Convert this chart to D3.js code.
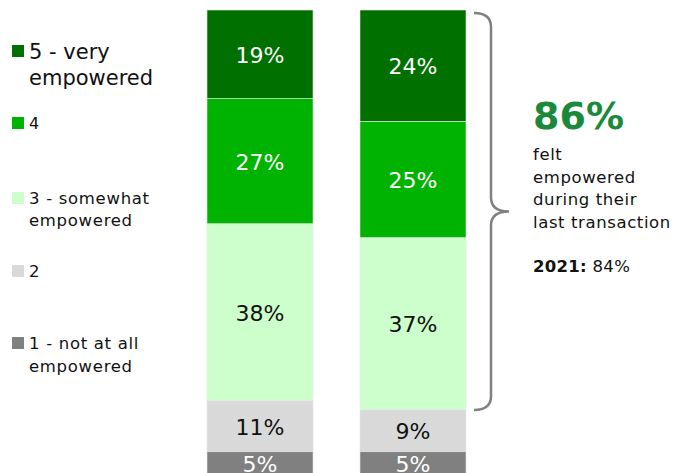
<!DOCTYPE html>
<html>
<head>
<meta charset="utf-8">
<script src="https://cdn.jsdelivr.net/npm/d3@7"></script>
<style>
  html, body { margin: 0; padding: 0; background: #fff; }
  svg { display: block; }
</style>
</head>
<body>
<svg id="chart" width="677" height="473"></svg>
<script>
// Response levels, top of the stack first
const levels = ["5 - very empowered", "4", "3 - somewhat empowered", "2", "1 - not at all empowered"];
const levelColors = ["#007000", "#00b300", "#ccffcc", "#d9d9d9", "#808080"];
const labelColors = ["#fff", "#fff", "#111", "#111", "#fff"];
const years = ["2021", "2022"];
// share of respondents (%) per level, same order as levels
const values2021 = [19, 27, 38, 11, 5];
const values2022 = [24, 25, 37, 9, 5];
const empoweredShare = 86;
const priorShare = 84;

const svg = d3.select("#chart");
const font = "'DejaVu Sans', sans-serif";

const x = d3.scaleBand().domain(years).range([207, 466]).paddingInner(0.307).paddingOuter(0);
const y = d3.scaleLinear().domain([0, 100]).range([10, 475]);
const color = d3.scaleOrdinal().domain(levels).range(levelColors);

const series = [values2021, values2022];
series.forEach((vals, i) => {
  let acc = 0;
  const segs = vals.map((v, j) => { const s = { level: levels[j], v, y0: acc, y1: acc + v, j }; acc += v; return s; });
  const g = svg.append("g");
  g.selectAll("rect").data(segs).join("rect")
    .attr("x", x(years[i]))
    .attr("width", x.bandwidth())
    .attr("y", d => y(d.y0))
    .attr("height", d => y(d.y1) - y(d.y0))
    .attr("fill", d => color(d.level))
    .attr("stroke", "#e6e6e6")
    .attr("stroke-width", 0.6);
  g.selectAll("text").data(segs).join("text")
    .attr("x", x(years[i]) + x.bandwidth() / 2)
    .attr("y", d => (y(d.y0) + y(d.y1)) / 2 + 1)
    .attr("text-anchor", "middle")
    .attr("dominant-baseline", "central")
    .attr("font-family", font)
    .attr("font-size", 22)
    .attr("fill", d => labelColors[d.j])
    .text(d => d.v + "%");
});

// Legend
const legendRows = [
  { lines: ["5 - very", "empowered"], top: 45, size: 21, lh: 26, ls: 0 },
  { lines: ["4"], top: 117, size: 16, lh: 22, ls: 0 },
  { lines: ["3 - somewhat", "empowered"], top: 192, size: 16.5, lh: 22, ls: 0.7 },
  { lines: ["2"], top: 265, size: 16.5, lh: 22, ls: 0.7 },
  { lines: ["1 - not at all", "empowered"], top: 337, size: 16.5, lh: 23, ls: 0.7 }
];
const legend = svg.append("g");
legendRows.forEach((r, i) => {
  legend.append("rect")
    .attr("x", 12).attr("y", r.top).attr("width", 12).attr("height", 12)
    .attr("fill", levelColors[i]);
  const t = legend.append("text")
    .attr("font-family", font)
    .attr("font-size", r.size)
    .attr("letter-spacing", r.ls)
    .attr("fill", "#111");
  r.lines.forEach((l, k) => {
    t.append("tspan").attr("x", 29).attr("y", r.top + 12 + (i === 0 ? 2 : 0) + k * r.lh).text(l);
  });
});

// Brace spanning the top three levels of the latest bar
const topY = y(0) + 3;
const botY = y(values2022[0] + values2022[1] + values2022[2]);
const midY = (topY + botY) / 2;
const bx0 = 474, bx = 491, tip = 509, r = 14;
const brace = d3.path();
brace.moveTo(bx0, topY);
brace.quadraticCurveTo(bx, topY, bx, topY + r);
brace.lineTo(bx, midY - r);
brace.quadraticCurveTo(bx, midY, tip, midY);
brace.quadraticCurveTo(bx, midY, bx, midY + r);
brace.lineTo(bx, botY - r);
brace.quadraticCurveTo(bx, botY, bx0, botY);
svg.append("path")
  .attr("d", brace.toString())
  .attr("fill", "none")
  .attr("stroke", "#808080")
  .attr("stroke-width", 2.5);

// Callout
const callout = svg.append("g").attr("font-family", font);
callout.append("text")
  .attr("x", 533).attr("y", 129)
  .attr("font-size", 38).attr("font-weight", "bold")
  .attr("fill", "#1a8a3a")
  .text(empoweredShare + "%");
const desc = callout.append("text").attr("font-size", 16.5).attr("letter-spacing", 0.6).attr("fill", "#111");
["felt", "empowered", "during their", "last transaction"].forEach((l, k) => {
  desc.append("tspan").attr("x", 533).attr("y", 160 + k * 22.7).text(l);
});
const prior = callout.append("text").attr("x", 533).attr("y", 272).attr("font-size", 16.5).attr("letter-spacing", 0.3).attr("fill", "#111");
prior.append("tspan").attr("font-weight", "bold").text(years[0] + ":");
prior.append("tspan").text(" " + priorShare + "%");
</script>
</body>
</html>
